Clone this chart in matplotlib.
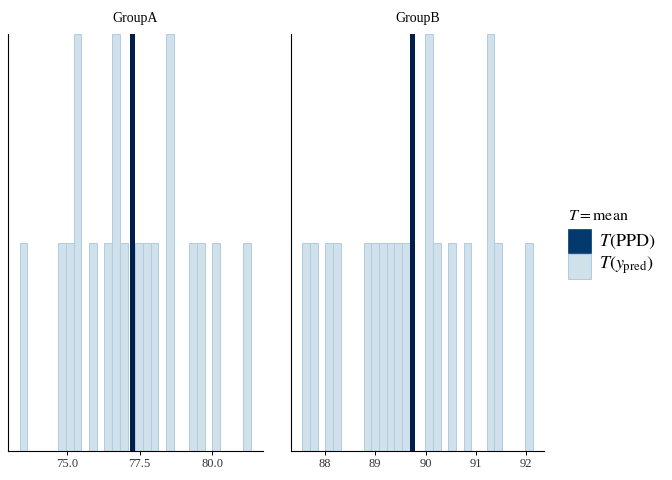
import numpy as np
import matplotlib
matplotlib.use("Agg")
import matplotlib.pyplot as plt
from matplotlib.patches import Rectangle

# ---- data (statistic T = mean of each predictive draw) ----
groups = ["GroupA", "GroupB"]
yrep_A = [73.50, 74.83, 75.10, 75.36, 75.36, 75.89, 76.42, 76.69, 76.69, 76.96,
          77.49, 77.75, 78.02, 78.55, 78.55, 79.35, 79.62, 80.15, 81.21]
yrep_B = [87.63, 87.78, 88.09, 88.24, 88.85, 89.00, 89.15, 89.31, 89.46, 89.61,
          90.07, 90.07, 90.22, 90.52, 90.83, 91.29, 91.29, 91.44, 92.05]
ppd_A = 77.245
ppd_B = 89.738
ticks_A = [75.0, 77.5, 80.0]
tick_labels_A = ["75.0", "77.5", "80.0"]
ticks_B = [88, 89, 90, 91, 92]
tick_labels_B = ["88", "89", "90", "91", "92"]
n_bins = 30

light = "#d1e1ec"
light_hl = "#b3cde0"
dark = "#03396c"
dark_hl = "#011f4b"

plt.rcParams["mathtext.fontset"] = "stix"
serif = "Liberation Serif"

fig = plt.figure(figsize=(6.72, 4.8), dpi=100)
W, H = 672.0, 480.0

panels = [
    (groups[0], yrep_A, ppd_A, ticks_A, tick_labels_A, 8.0, 262.6),
    (groups[1], yrep_B, ppd_B, ticks_B, tick_labels_B, 290.8, 544.2),
]
top_px, bot_px = 34.0, 451.0

for name, vals, obs, ticks, tlabels, x0, x1 in panels:
    ax = fig.add_axes([x0 / W, (H - bot_px) / H, (x1 - x0) / W, (bot_px - top_px) / H])
    vals = np.asarray(vals)
    lo, hi = vals.min(), vals.max()
    bw = (hi - lo) / (n_bins - 1)
    edges = np.linspace(lo - bw / 2, hi + bw / 2, n_bins + 1)
    counts, _, _ = ax.hist(vals, bins=edges, color=light, edgecolor=light_hl, linewidth=0.75)
    ax.axvline(obs, color=dark_hl, linewidth=3.6)
    rng_lo = min(edges[0], obs)
    rng_hi = max(edges[-1], obs)
    pad = 0.05 * (rng_hi - rng_lo)
    ax.set_xlim(rng_lo - pad, rng_hi + pad)
    ax.set_ylim(0, counts.max())
    ax.set_yticks([])
    ax.set_xticks(ticks)
    ax.set_xticklabels(tlabels, fontfamily=serif, fontsize=9, color="#333333")
    ax.tick_params(axis="x", length=3, width=0.7, color="black", pad=2)
    for s in ["top", "right"]:
        ax.spines[s].set_visible(False)
    for s in ["left", "bottom"]:
        ax.spines[s].set_linewidth(0.8)
        ax.spines[s].set_color("black")
    ax.patch.set_alpha(0)
    cx = (x0 + x1) / 2 / W
    fig.text(cx, 1 - 18.5 / H, name, ha="center", va="center", fontfamily=serif, fontsize=10, color="black")

# ---- legend ----
fig.text(568 / W, 1 - 216 / H, r"$T = \mathrm{mean}$", ha="left", va="center", fontsize=11.5)
fig.patches.append(Rectangle((568 / W, 1 - 252.7 / H), 23 / W, 23.4 / H, transform=fig.transFigure,
                             facecolor=dark, edgecolor=dark, linewidth=0.5))
fig.patches.append(Rectangle((568 / W, 1 - 279.3 / H), 23 / W, 25 / H, transform=fig.transFigure,
                             facecolor=light, edgecolor=light_hl, linewidth=0.75))
fig.text(599 / W, 1 - 241.5 / H, r"$T(\mathrm{PPD})$", ha="left", va="center", fontsize=13)
fig.text(599 / W, 1 - 265.5 / H, r"$T(y_{\mathrm{pred}})$", ha="left", va="center", fontsize=13)

fig.savefig("out.png", dpi=100)
